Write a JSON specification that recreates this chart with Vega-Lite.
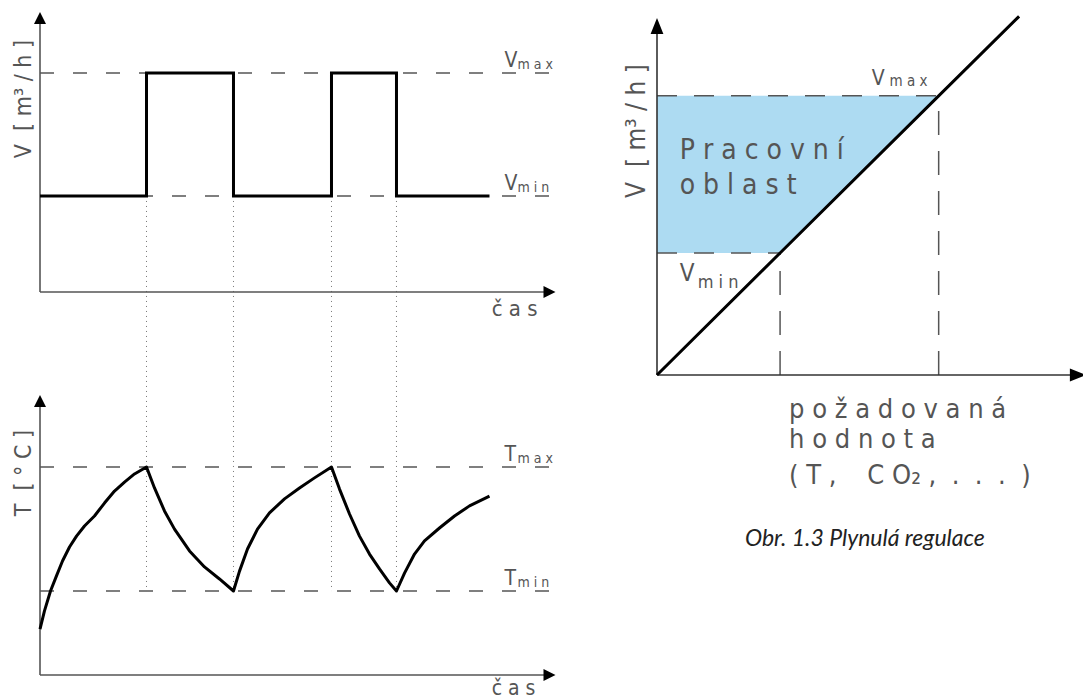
{
  "$schema": "https://vega.github.io/schema/vega-lite/v6.json",
  "padding": {"left": 12, "top": 10, "right": 0, "bottom": 0},
  "autosize": {"type": "pad"},
  "background": "white",
  "spacing": 67,
  "config": {
    "view": {"stroke": null},
    "text": {"font": "Liberation Sans Narrow, DejaVu Sans Condensed, sans-serif", "color": "#555"}
  },
  "hconcat": [
    {
      "bounds": "flush",
      "spacing": 103,
      "vconcat": [
        {
          "width": 515,
          "height": 280,
          "layer": [
            {
              "data": {"values": [{"x": 0, "x2": 10, "y": 7.82}, {"x": 0, "x2": 10, "y": 3.43}]},
              "mark": {"type": "rule", "stroke": "#555", "strokeWidth": 1.5, "strokeDash": [14, 19]},
              "encoding": {
                "x": {"field": "x", "type": "quantitative", "axis": null, "scale": {"domain": [0, 10], "nice": false, "zero": false}},
                "x2": {"field": "x2"},
                "y": {"field": "y", "type": "quantitative", "axis": null, "scale": {"domain": [0, 10], "nice": false, "zero": false}}
              }
            },
            {
              "data": {"values": [{"x": 2.068, "y": 3.43, "y2": -10.68}, {"x": 3.757, "y": 3.43, "y2": -10.68}, {"x": 5.66, "y": 3.43, "y2": -10.68}, {"x": 6.922, "y": 3.43, "y2": -10.68}]},
              "mark": {"type": "rule", "stroke": "#777", "strokeWidth": 1, "strokeDash": [1, 4]},
              "encoding": {"x": {"field": "x", "type": "quantitative", "axis": null}, "y": {"field": "y", "type": "quantitative", "axis": null}, "y2": {"field": "y2"}}
            },
            {
              "data": {"values": [{"x": 0, "x2": 9.8, "y": 0, "y2": 0}, {"x": 0, "x2": 0, "y": 0, "y2": 9.6}]},
              "mark": {"type": "rule", "stroke": "#555", "strokeWidth": 1.6},
              "encoding": {"x": {"field": "x", "type": "quantitative", "axis": null}, "x2": {"field": "x2"}, "y": {"field": "y", "type": "quantitative", "axis": null}, "y2": {"field": "y2"}}
            },
            {
              "data": {"values": [{"x": 0, "y": 9.786}]},
              "mark": {"type": "point", "shape": "M0,-1L1,1L-1,1Z", "filled": true, "color": "black", "opacity": 1, "size": 144},
              "encoding": {"x": {"field": "x", "type": "quantitative", "axis": null}, "y": {"field": "y", "type": "quantitative", "axis": null}}
            },
            {
              "data": {"values": [{"x": 9.893, "y": 0}]},
              "mark": {"type": "point", "shape": "M1,0L-1,1L-1,-1Z", "filled": true, "color": "black", "opacity": 1, "size": 144},
              "encoding": {"x": {"field": "x", "type": "quantitative", "axis": null}, "y": {"field": "y", "type": "quantitative", "axis": null}}
            },
            {
              "data": {"values": [
                {"i": 0, "x": 0, "y": 3.43}, {"i": 1, "x": 2.068, "y": 3.43}, {"i": 2, "x": 2.068, "y": 7.82},
                {"i": 3, "x": 3.757, "y": 7.82}, {"i": 4, "x": 3.757, "y": 3.43}, {"i": 5, "x": 5.66, "y": 3.43},
                {"i": 6, "x": 5.66, "y": 7.82}, {"i": 7, "x": 6.922, "y": 7.82}, {"i": 8, "x": 6.922, "y": 3.43},
                {"i": 9, "x": 8.728, "y": 3.43}
              ]},
              "mark": {"type": "line", "color": "black", "strokeWidth": 3, "strokeJoin": "miter", "strokeCap": "butt"},
              "encoding": {
                "x": {"field": "x", "type": "quantitative", "axis": null},
                "y": {"field": "y", "type": "quantitative", "axis": null},
                "order": {"field": "i", "type": "quantitative"}
              }
            },
            {
              "data": {"values": [{"x": 9.02, "y": 7.82, "label": "V"}, {"x": 9.02, "y": 3.43, "label": "V"}]},
              "mark": {"type": "text", "align": "left", "baseline": "alphabetic", "fontSize": 21, "dy": -6},
              "encoding": {"x": {"field": "x", "type": "quantitative", "axis": null}, "y": {"field": "y", "type": "quantitative", "axis": null}, "text": {"field": "label", "type": "nominal"}}
            },
            {
              "data": {"values": [{"x": 9.27, "y": 7.82, "label": "m a x"}, {"x": 9.27, "y": 3.43, "label": "m i n"}]},
              "mark": {"type": "text", "align": "left", "baseline": "alphabetic", "fontSize": 14, "dy": -4},
              "encoding": {"x": {"field": "x", "type": "quantitative", "axis": null}, "y": {"field": "y", "type": "quantitative", "axis": null}, "text": {"field": "label", "type": "nominal"}}
            },
            {
              "data": {"values": [{"x": 8.77, "y": 0, "label": "č a s"}]},
              "mark": {"type": "text", "align": "left", "baseline": "alphabetic", "fontSize": 22, "dy": 24},
              "encoding": {"x": {"field": "x", "type": "quantitative", "axis": null}, "y": {"field": "y", "type": "quantitative", "axis": null}, "text": {"field": "label", "type": "nominal"}}
            },
            {
              "data": {"values": [{"x": -0.32, "y": 6.89, "label": "V \u00a0[ m³ / h ]"}]},
              "mark": {"type": "text", "align": "center", "baseline": "middle", "fontSize": 23, "angle": 270},
              "encoding": {"x": {"field": "x", "type": "quantitative", "axis": null}, "y": {"field": "y", "type": "quantitative", "axis": null}, "text": {"field": "label", "type": "nominal"}}
            }
          ]
        },
        {
          "width": 515,
          "height": 280,
          "layer": [
            {
              "data": {"values": [{"x": 0, "x2": 10, "y": 7.43}, {"x": 0, "x2": 10, "y": 3.0}]},
              "mark": {"type": "rule", "stroke": "#555", "strokeWidth": 1.5, "strokeDash": [14, 19]},
              "encoding": {
                "x": {"field": "x", "type": "quantitative", "axis": null, "scale": {"domain": [0, 10], "nice": false, "zero": false}},
                "x2": {"field": "x2"},
                "y": {"field": "y", "type": "quantitative", "axis": null, "scale": {"domain": [0, 10], "nice": false, "zero": false}}
              }
            },
            {
              "data": {"values": [{"x": 0, "x2": 9.8, "y": 0, "y2": 0}, {"x": 0, "x2": 0, "y": 0, "y2": 9.6}]},
              "mark": {"type": "rule", "stroke": "#555", "strokeWidth": 1.6},
              "encoding": {"x": {"field": "x", "type": "quantitative", "axis": null}, "x2": {"field": "x2"}, "y": {"field": "y", "type": "quantitative", "axis": null}, "y2": {"field": "y2"}}
            },
            {
              "data": {"values": [{"x": 0, "y": 9.786}]},
              "mark": {"type": "point", "shape": "M0,-1L1,1L-1,1Z", "filled": true, "color": "black", "opacity": 1, "size": 144},
              "encoding": {"x": {"field": "x", "type": "quantitative", "axis": null}, "y": {"field": "y", "type": "quantitative", "axis": null}}
            },
            {
              "data": {"values": [{"x": 9.893, "y": 0}]},
              "mark": {"type": "point", "shape": "M1,0L-1,1L-1,-1Z", "filled": true, "color": "black", "opacity": 1, "size": 144},
              "encoding": {"x": {"field": "x", "type": "quantitative", "axis": null}, "y": {"field": "y", "type": "quantitative", "axis": null}}
            },
            {
              "data": {"values": [
                {"i": 0, "x": 0, "y": 1.64}, {"i": 1, "x": 0.087, "y": 2.29}, {"i": 2, "x": 0.204, "y": 3.0},
                {"i": 3, "x": 0.32, "y": 3.54}, {"i": 4, "x": 0.437, "y": 4.07}, {"i": 5, "x": 0.573, "y": 4.57},
                {"i": 6, "x": 0.709, "y": 4.96}, {"i": 7, "x": 0.864, "y": 5.32}, {"i": 8, "x": 1.058, "y": 5.68},
                {"i": 9, "x": 1.252, "y": 6.14}, {"i": 10, "x": 1.447, "y": 6.57}, {"i": 11, "x": 1.641, "y": 6.89},
                {"i": 12, "x": 1.835, "y": 7.18}, {"i": 13, "x": 2.068, "y": 7.43}, {"i": 14, "x": 2.223, "y": 6.68},
                {"i": 15, "x": 2.417, "y": 5.86}, {"i": 16, "x": 2.612, "y": 5.21}, {"i": 17, "x": 2.903, "y": 4.43},
                {"i": 18, "x": 3.194, "y": 3.86}, {"i": 19, "x": 3.485, "y": 3.43}, {"i": 20, "x": 3.757, "y": 3.0},
                {"i": 21, "x": 3.874, "y": 3.71}, {"i": 22, "x": 4.029, "y": 4.5}, {"i": 23, "x": 4.223, "y": 5.21},
                {"i": 24, "x": 4.456, "y": 5.79}, {"i": 25, "x": 4.748, "y": 6.29}, {"i": 26, "x": 5.039, "y": 6.68},
                {"i": 27, "x": 5.33, "y": 7.04}, {"i": 28, "x": 5.66, "y": 7.43}, {"i": 29, "x": 5.816, "y": 6.64},
                {"i": 30, "x": 6.01, "y": 5.75}, {"i": 31, "x": 6.204, "y": 4.96}, {"i": 32, "x": 6.398, "y": 4.32},
                {"i": 33, "x": 6.592, "y": 3.79}, {"i": 34, "x": 6.786, "y": 3.29}, {"i": 35, "x": 6.922, "y": 3.0},
                {"i": 36, "x": 7.078, "y": 3.64}, {"i": 37, "x": 7.272, "y": 4.32}, {"i": 38, "x": 7.466, "y": 4.79},
                {"i": 39, "x": 7.757, "y": 5.25}, {"i": 40, "x": 8.049, "y": 5.68}, {"i": 41, "x": 8.34, "y": 6.04},
                {"i": 42, "x": 8.728, "y": 6.39}
              ]},
              "mark": {"type": "line", "color": "black", "strokeWidth": 3, "strokeJoin": "round"},
              "encoding": {
                "x": {"field": "x", "type": "quantitative", "axis": null},
                "y": {"field": "y", "type": "quantitative", "axis": null},
                "order": {"field": "i", "type": "quantitative"}
              }
            },
            {
              "data": {"values": [{"x": 9.02, "y": 7.43, "label": "T"}, {"x": 9.02, "y": 3.0, "label": "T"}]},
              "mark": {"type": "text", "align": "left", "baseline": "alphabetic", "fontSize": 21, "dy": -6},
              "encoding": {"x": {"field": "x", "type": "quantitative", "axis": null}, "y": {"field": "y", "type": "quantitative", "axis": null}, "text": {"field": "label", "type": "nominal"}}
            },
            {
              "data": {"values": [{"x": 9.27, "y": 7.43, "label": "m a x"}, {"x": 9.27, "y": 3.0, "label": "m i n"}]},
              "mark": {"type": "text", "align": "left", "baseline": "alphabetic", "fontSize": 14, "dy": -4},
              "encoding": {"x": {"field": "x", "type": "quantitative", "axis": null}, "y": {"field": "y", "type": "quantitative", "axis": null}, "text": {"field": "label", "type": "nominal"}}
            },
            {
              "data": {"values": [{"x": 8.77, "y": 0, "label": "č a s"}]},
              "mark": {"type": "text", "align": "left", "baseline": "alphabetic", "fontSize": 21, "dy": 20},
              "encoding": {"x": {"field": "x", "type": "quantitative", "axis": null}, "y": {"field": "y", "type": "quantitative", "axis": null}, "text": {"field": "label", "type": "nominal"}}
            },
            {
              "data": {"values": [{"x": -0.32, "y": 7.21, "label": "T \u00a0[ ° C ]"}]},
              "mark": {"type": "text", "align": "center", "baseline": "middle", "fontSize": 23, "angle": 270},
              "encoding": {"x": {"field": "x", "type": "quantitative", "axis": null}, "y": {"field": "y", "type": "quantitative", "axis": null}, "text": {"field": "label", "type": "nominal"}}
            }
          ]
        }
      ]
    },
    {
      "width": 426,
      "height": 363,
      "layer": [
        {
          "data": {"values": [{"y": 3.36, "x": 2.889, "x2": 0}, {"y": 7.69, "x": 6.612, "x2": 0}]},
          "mark": {"type": "area", "orient": "horizontal", "color": "#addbf2", "opacity": 1},
          "encoding": {
            "y": {"field": "y", "type": "quantitative", "axis": null, "scale": {"domain": [0, 10], "nice": false, "zero": false}},
            "x": {"field": "x", "type": "quantitative", "axis": null, "scale": {"domain": [0, 10], "nice": false, "zero": false}},
            "x2": {"field": "x2"}
          }
        },
        {
          "data": {"values": [{"x": 0, "x2": 6.612, "y": 7.69}, {"x": 0, "x2": 2.889, "y": 3.36}]},
          "mark": {"type": "rule", "stroke": "#555", "strokeWidth": 1.5, "strokeDash": [20, 17]},
          "encoding": {"x": {"field": "x", "type": "quantitative", "axis": null}, "x2": {"field": "x2"}, "y": {"field": "y", "type": "quantitative", "axis": null}}
        },
        {
          "data": {"values": [{"x": 6.612, "y": 0, "y2": 7.69}, {"x": 2.889, "y": 0, "y2": 3.36}]},
          "mark": {"type": "rule", "stroke": "#555", "strokeWidth": 1.5, "strokeDash": [24, 16]},
          "encoding": {"x": {"field": "x", "type": "quantitative", "axis": null}, "y": {"field": "y", "type": "quantitative", "axis": null}, "y2": {"field": "y2"}}
        },
        {
          "data": {"values": [{"x": 0, "x2": 9.85, "y": 0, "y2": 0}, {"x": 0, "x2": 0, "y": 0, "y2": 9.6}]},
          "mark": {"type": "rule", "stroke": "#333", "strokeWidth": 1.6},
          "encoding": {"x": {"field": "x", "type": "quantitative", "axis": null}, "x2": {"field": "x2"}, "y": {"field": "y", "type": "quantitative", "axis": null}, "y2": {"field": "y2"}}
        },
        {
          "data": {"values": [{"x": 0, "y": 9.614}]},
          "mark": {"type": "point", "shape": "M0,-1L0.8,1L-0.8,1Z", "filled": true, "color": "black", "opacity": 1, "size": 256},
          "encoding": {"x": {"field": "x", "type": "quantitative", "axis": null}, "y": {"field": "y", "type": "quantitative", "axis": null}}
        },
        {
          "data": {"values": [{"x": 9.88, "y": 0}]},
          "mark": {"type": "point", "shape": "M1,0L-1,0.8L-1,-0.8Z", "filled": true, "color": "black", "opacity": 1, "size": 256},
          "encoding": {"x": {"field": "x", "type": "quantitative", "axis": null}, "y": {"field": "y", "type": "quantitative", "axis": null}}
        },
        {
          "data": {"values": [{"x": 0, "y": 0}, {"x": 2.889, "y": 3.36}, {"x": 6.612, "y": 7.69}, {"x": 8.5, "y": 9.88}]},
          "mark": {"type": "line", "color": "black", "strokeWidth": 3},
          "encoding": {"x": {"field": "x", "type": "quantitative", "axis": null}, "y": {"field": "y", "type": "quantitative", "axis": null}}
        },
        {
          "data": {"values": [{"x": 0.533, "y": 5.95, "label": "P r a c o v n í"}, {"x": 0.533, "y": 4.99, "label": "o b l a s t"}]},
          "mark": {"type": "text", "align": "left", "baseline": "alphabetic", "fontSize": 28},
          "encoding": {"x": {"field": "x", "type": "quantitative", "axis": null}, "y": {"field": "y", "type": "quantitative", "axis": null}, "text": {"field": "label", "type": "nominal"}}
        },
        {
          "data": {"values": [{"x": 5.04, "y": 7.69, "label": "V"}]},
          "mark": {"type": "text", "align": "left", "baseline": "alphabetic", "fontSize": 21, "dy": -11},
          "encoding": {"x": {"field": "x", "type": "quantitative", "axis": null}, "y": {"field": "y", "type": "quantitative", "axis": null}, "text": {"field": "label", "type": "nominal"}}
        },
        {
          "data": {"values": [{"x": 5.46, "y": 7.69, "label": "m a x"}]},
          "mark": {"type": "text", "align": "left", "baseline": "alphabetic", "fontSize": 15, "dy": -10},
          "encoding": {"x": {"field": "x", "type": "quantitative", "axis": null}, "y": {"field": "y", "type": "quantitative", "axis": null}, "text": {"field": "label", "type": "nominal"}}
        },
        {
          "data": {"values": [{"x": 0.533, "y": 3.36, "label": "V"}]},
          "mark": {"type": "text", "align": "left", "baseline": "alphabetic", "fontSize": 24, "dy": 28},
          "encoding": {"x": {"field": "x", "type": "quantitative", "axis": null}, "y": {"field": "y", "type": "quantitative", "axis": null}, "text": {"field": "label", "type": "nominal"}}
        },
        {
          "data": {"values": [{"x": 0.955, "y": 3.36, "label": "m i n"}]},
          "mark": {"type": "text", "align": "left", "baseline": "alphabetic", "fontSize": 18, "dy": 35},
          "encoding": {"x": {"field": "x", "type": "quantitative", "axis": null}, "y": {"field": "y", "type": "quantitative", "axis": null}, "text": {"field": "label", "type": "nominal"}}
        },
        {
          "data": {"values": [{"x": -0.477, "y": 6.72, "label": "V \u00a0[ m³ / h ]"}]},
          "mark": {"type": "text", "align": "center", "baseline": "middle", "fontSize": 26, "angle": 270},
          "encoding": {"x": {"field": "x", "type": "quantitative", "axis": null}, "y": {"field": "y", "type": "quantitative", "axis": null}, "text": {"field": "label", "type": "nominal"}}
        },
        {
          "data": {"values": [{"x": 3.1, "y": -1.18, "label": "p o ž a d o v a n á"}, {"x": 3.1, "y": -2.01, "label": "h o d n o t a"}, {"x": 3.1, "y": -3.0, "label": "( T , \u00a0\u00a0\u00a0C O₂ , \u00a0. \u00a0. \u00a0. \u00a0)"}]},
          "mark": {"type": "text", "align": "left", "baseline": "alphabetic", "fontSize": 27},
          "encoding": {"x": {"field": "x", "type": "quantitative", "axis": null}, "y": {"field": "y", "type": "quantitative", "axis": null}, "text": {"field": "label", "type": "nominal"}}
        },
        {
          "data": {"values": [{"x": 4.88, "y": -4.52, "label": "Obr. 1.3 Plynulá regulace"}]},
          "mark": {"type": "text", "align": "center", "baseline": "middle", "fontSize": 23, "font": "Lato", "fontStyle": "italic", "fontWeight": 400, "color": "#222"},
          "encoding": {"x": {"field": "x", "type": "quantitative", "axis": null}, "y": {"field": "y", "type": "quantitative", "axis": null}, "text": {"field": "label", "type": "nominal"}}
        }
      ]
    }
  ]
}
